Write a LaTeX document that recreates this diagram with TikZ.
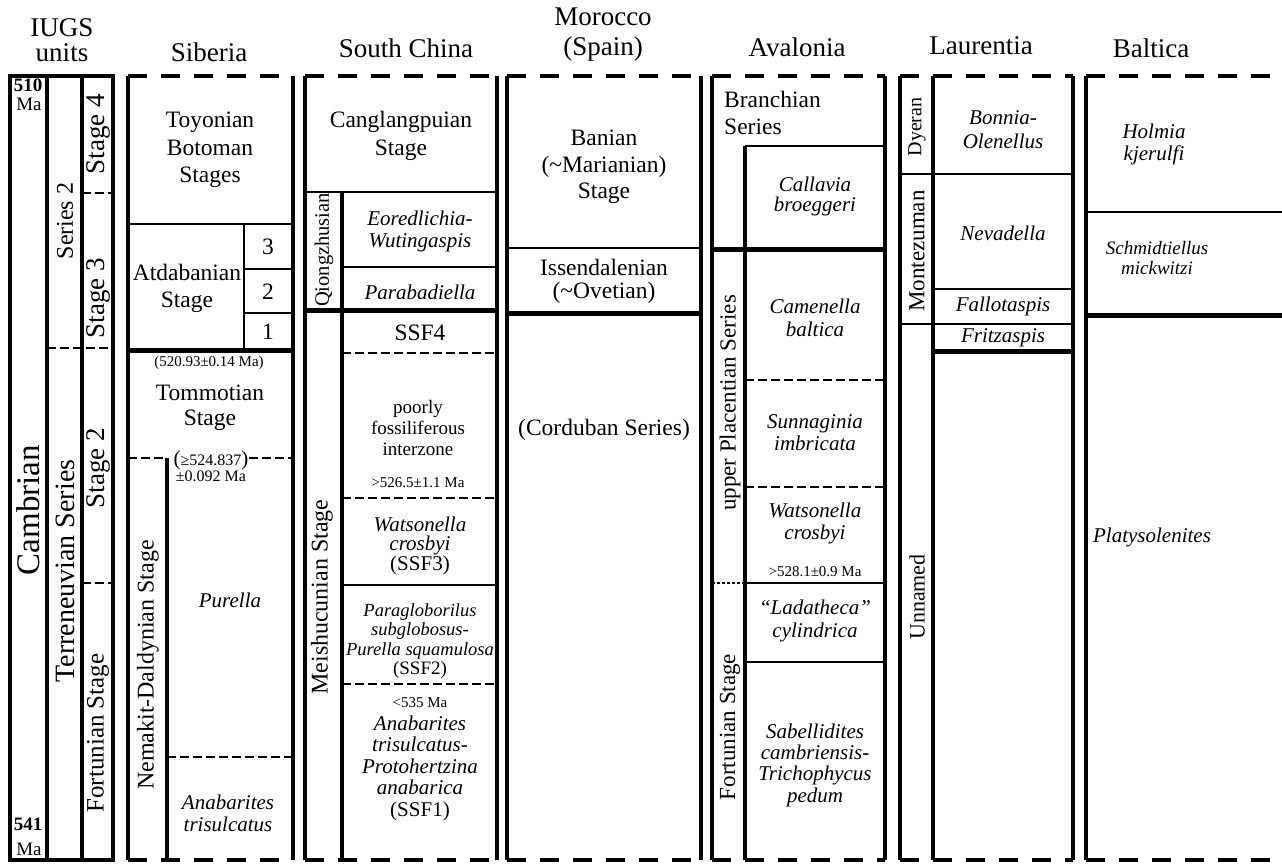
\documentclass[tikz,border=0pt]{standalone}
\usepackage{fontspec}
\setmainfont{Liberation Serif}
\begin{document}
\begin{tikzpicture}[x=1pt,y=-1pt,
  frame/.style={line width=4pt},
  bdash/.style={line width=4pt, dash pattern=on 19pt off 14pt},
  sep/.style={line width=2.5pt},
  tsep/.style={line width=5pt},
  dsep/.style={line width=2.5pt, dash pattern=on 9pt off 4pt},
  dotsep/.style={line width=2pt, dash pattern=on 3pt off 2pt},
  hdr/.style={font=\fontsize{27}{30}\selectfont, align=center, inner sep=0pt},
  txt/.style={font=\fontsize{23.5}{27}\selectfont, align=center, inner sep=0pt},
  tax/.style={font=\itshape\fontsize{21}{22}\selectfont, align=center, inner sep=0pt},
  sml/.style={font=\fontsize{15}{16}\selectfont, align=center, inner sep=0pt},
  vt/.style={rotate=90, inner sep=0pt, font=\fontsize{23.5}{26}\selectfont},
]
\useasboundingbox (0,0) rectangle (1282,863);

% ---------- IUGS units ----------
\draw[frame] (10,76) rectangle (113,860);
\draw[frame] (47,76) -- (47,860);
\draw[frame] (82,76) -- (82,860);
\draw[dsep] (82,193) -- (113,193);
\draw[dsep] (47,348) -- (113,348);
\draw[dsep] (82,583) -- (113,583);

% ---------- column frames ----------
\foreach \a/\b in {128/293, 305/497, 507/701, 712/885, 900/1073, 1086/1300}{
  \draw[frame] (\a,76) -- (\a,860);
  \draw[frame] (\b,76) -- (\b,860);
  \draw[bdash] (\a,76) -- (\b,76);
  \draw[bdash] (\a,860) -- (\b,860);
}

% ---------- Siberia ----------
\draw[sep] (128,224) -- (293,224);
\draw[sep] (244,224) -- (244,350);
\draw[sep] (244,269) -- (293,269);
\draw[sep] (244,313) -- (293,313);
\draw[tsep] (128,350) -- (293,350);
\draw[dsep] (128,458) -- (165,458);
\draw[dsep] (249,458) -- (293,458);
\draw[frame] (167,458) -- (167,860);
\draw[dsep] (167,757) -- (293,757);

% ---------- South China ----------
\draw[sep] (305,192) -- (497,192);
\draw[frame] (342,192) -- (342,860);
\draw[sep] (342,267) -- (497,267);
\draw[tsep] (305,310) -- (497,310);
\draw[dsep] (342,353) -- (497,353);
\draw[dsep] (342,498) -- (497,498);
\draw[sep] (342,585) -- (497,585);
\draw[dsep] (342,684) -- (497,684);

% ---------- Morocco ----------
\draw[sep] (507,248) -- (701,248);
\draw[tsep] (507,313) -- (701,313);

% ---------- Avalonia ----------
\draw[sep] (745,146) -- (885,146);
\draw[frame] (745,146) -- (745,860);
\draw[tsep] (712,249) -- (885,249);
\draw[dsep] (745,380) -- (885,380);
\draw[dsep] (745,487) -- (885,487);
\draw[sep] (745,583) -- (885,583);
\draw[dotsep] (712,583) -- (745,583);
\draw[sep] (745,662) -- (885,662);

% ---------- Laurentia ----------
\draw[frame] (933,76) -- (933,860);
\draw[sep] (900,174) -- (1073,174);
\draw[sep] (933,289) -- (1073,289);
\draw[sep] (900,324) -- (1073,324);
\draw[tsep] (933,351) -- (1073,351);

% ---------- Baltica ----------
\draw[sep] (1086,212) -- (1300,212);
\draw[tsep] (1086,315) -- (1300,315);

% ---------- headers ----------
\node[hdr, font=\fontsize{27}{25}\selectfont] (hIUGS) at (62,40) {IUGS\\units};
\node[hdr] (hSib) at (209,52) {Siberia};
\node[hdr] (hSC) at (406,48) {South China};
\node[hdr, font=\fontsize{27}{30}\selectfont] (hMor) at (603,35) {Morocco\\(Spain)};
\node[hdr] (hAva) at (797,47) {Avalonia};
\node[hdr] (hLau) at (981,46) {Laurentia};
\node[hdr] (hBal) at (1151,48) {Baltica};

% ---------- IUGS texts ----------
\node[inner sep=0pt, font=\bfseries\fontsize{19}{19}\selectfont] (m510) at (28,85) {510};
\node[inner sep=0pt, font=\fontsize{19}{19}\selectfont] (ma510) at (29,104) {Ma};
\node[inner sep=0pt, font=\bfseries\fontsize{19}{19}\selectfont] (m541) at (28,824) {541};
\node[inner sep=0pt, font=\fontsize{19}{19}\selectfont] (ma541) at (29,849) {Ma};
\node[vt, font=\fontsize{33}{35}\selectfont] (cam) at (28,510) {Cambrian};
\node[vt, font=\fontsize{24}{26}\selectfont] (ser2) at (65,221) {Series 2};
\node[vt, font=\fontsize{28}{30}\selectfont] (terr) at (65,571) {Terreneuvian Series};
\node[vt, font=\fontsize{27}{29}\selectfont] (st4) at (98,134) {Stage 4};
\node[vt, font=\fontsize{27}{29}\selectfont] (st3) at (98,298) {Stage 3};
\node[vt, font=\fontsize{27}{29}\selectfont] (st2) at (98,468) {Stage 2};
\node[vt, font=\fontsize{25}{27}\selectfont] (fort) at (98,733) {Fortunian Stage};

% ---------- Siberia texts ----------
\node[txt, font=\fontsize{23.5}{27.5}\selectfont] (toy) at (210,150) {Toyonian\\Botoman\\Stages};
\node[txt] (atd) at (187,288) {Atdabanian\\Stage};
\node[txt] (s3) at (268,247) {3};
\node[txt] (s2) at (268,292) {2};
\node[txt] (s1) at (268,332) {1};
\node[sml] (age1) at (209,363) {(520.93±0.14 Ma)};
\node[txt, font=\fontsize{23.5}{25}\selectfont] (tom) at (210,408) {Tommotian\\Stage};
\node[sml, font=\fontsize{16}{16}\selectfont] (age2) at (211,466) {{\fontsize{21}{16}\selectfont(}≥524.837{\fontsize{21}{16}\selectfont)}\\±0.092 Ma};
\node[vt, font=\fontsize{24}{26}\selectfont] (nem) at (148,665) {Nemakit-Daldynian Stage};
\node[tax] (pur) at (230,600) {Purella};
\node[tax] (anab1) at (228,813) {Anabarites\\trisulcatus};

% ---------- South China texts ----------
\node[txt, font=\fontsize{23.5}{28}\selectfont] (cang) at (401,136) {Canglangpuian\\Stage};
\node[vt, font=\fontsize{20.5}{22}\selectfont] (qiong) at (324,250) {Qiongzhusian};
\node[tax] (eor) at (420,231) {Eoredlichia-\\Wutingaspis};
\node[tax] (para) at (420,292) {Parabadiella};
\node[txt] (ssf4) at (420,333) {SSF4};
\node[txt, font=\fontsize{19}{21}\selectfont] (poor) at (418,428) {poorly\\fossiliferous\\interzone};
\node[sml] (age3) at (418,483) {>526.5±1.1 Ma};
\node[tax, font=\itshape\fontsize{21}{19}\selectfont] (wat1) at (420,546) {Watsonella\\crosbyi\\\upshape(SSF3)};
\node[tax, font=\itshape\fontsize{18.5}{19.3}\selectfont] (ssf2) at (420,641) {Paragloborilus\\subglobosus-\\Purella squamulosa\\\upshape\fontsize{19}{19.3}\selectfont(SSF2)};
\node[sml] (age4) at (420,703) {<535 Ma};
\node[tax, font=\itshape\fontsize{21}{21.5}\selectfont] (ssf1) at (420,768) {Anabarites\\trisulcatus-\\Protohertzina\\anabarica\\\upshape(SSF1)};
\node[vt, font=\fontsize{24}{26}\selectfont] (meis) at (322,597) {Meishucunian Stage};

% ---------- Morocco texts ----------
\node[txt, font=\fontsize{23.5}{26.5}\selectfont] (ban) at (604,167) {Banian\\(\textasciitilde Marianian)\\Stage};
\node[txt, font=\fontsize{23.5}{23}\selectfont] (iss) at (604,281) {Issendalenian\\(\textasciitilde Ovetian)};
\node[txt] (cord) at (604,430) {(Corduban Series)};

% ---------- Avalonia texts ----------
\node[txt, align=left, anchor=west] (bra) at (724,113) {Branchian\\Series};
\node[tax, font=\itshape\fontsize{21}{20}\selectfont] (cal) at (815,196) {Callavia\\broeggeri};
\node[tax, font=\itshape\fontsize{21}{23}\selectfont] (came) at (815,318) {Camenella\\baltica};
\node[tax] (sun) at (815,433) {Sunnaginia\\imbricata};
\node[tax] (wat2) at (815,523) {Watsonella\\crosbyi};
\node[sml] (age5) at (815,572) {>528.1±0.9 Ma};
\node[tax, font=\itshape\fontsize{21}{23}\selectfont] (lad) at (815,621) {“Ladatheca”\\cylindrica};
\node[tax, font=\itshape\fontsize{21}{21.3}\selectfont] (sab) at (815,765) {Sabellidites\\cambriensis-\\Trichophycus\\pedum};
\node[vt, font=\fontsize{23}{25}\selectfont] (upl) at (730,403) {upper Placentian Series};
\node[vt, font=\fontsize{23}{25}\selectfont] (fort2) at (730,727) {Fortunian Stage};

% ---------- Laurentia texts ----------
\node[vt, font=\fontsize{20}{22}\selectfont] (dye) at (917,127) {Dyeran};
\node[vt, font=\fontsize{23}{25}\selectfont] (mon) at (917,251) {Montezuman};
\node[vt, font=\fontsize{22}{24}\selectfont] (unn) at (917,597) {Unnamed};
\node[tax, font=\itshape\fontsize{21}{24}\selectfont] (bon) at (1003,130) {Bonnia-\\Olenellus};
\node[tax] (nev) at (1003,233) {Nevadella};
\node[tax] (fal) at (1003,306) {Fallotaspis};
\node[tax] (fri) at (1003,338) {Fritzaspis};

% ---------- Baltica texts ----------
\node[tax] (hol) at (1154,144) {Holmia\\kjerulfi};
\node[tax, font=\itshape\fontsize{19}{20}\selectfont] (sch) at (1157,258) {Schmidtiellus\\mickwitzi};
\node[tax] (pla) at (1152,537) {Platysolenites};
\end{tikzpicture}
\end{document}
